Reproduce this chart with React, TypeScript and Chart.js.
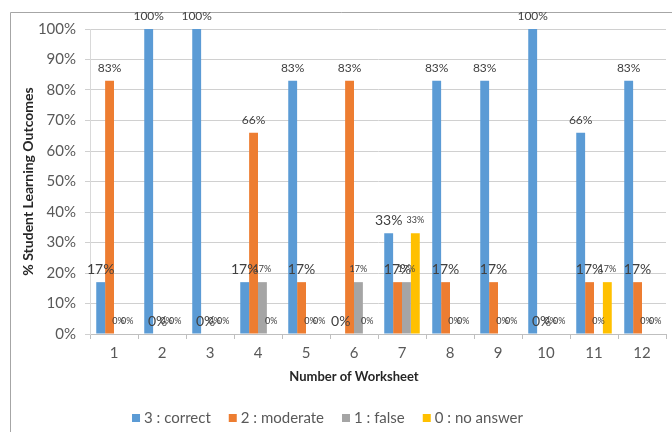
import React, { useEffect, useRef } from "react";
import { Chart, registerables } from "chart.js";

Chart.register(...registerables);

const categories = ["1", "2", "3", "4", "5", "6", "7", "8", "9", "10", "11", "12"];
const correct = [17, 100, 100, 17, 83, 0, 33, 83, 83, 100, 66, 83];
const moderate = [83, 0, 0, 66, 17, 83, 17, 17, 17, 0, 17, 17];
const falseAns = [0, 0, 0, 17, 0, 17, 17, 0, 0, 0, 0, 0];
const noAnswer = [0, 0, 0, 0, 0, 0, 33, 0, 0, 0, 17, 0];
const seriesNames = ["3 : correct", "2 : moderate", "1 : false", "0 : no answer"];
const seriesColors = ["#5b9bd5", "#ed7d31", "#a5a5a5", "#ffc000"];
const xTitle = "Number of Worksheet";
const yTitle = "% Student Learning Outcomes";

const FONT = "Lato, 'Liberation Sans', sans-serif";

const framePlugin = {
  id: "frame",
  beforeDraw(chart: any) {
    const ctx = chart.ctx;
    ctx.save();
    ctx.fillStyle = "#ffffff";
    ctx.fillRect(0, 0, chart.width, chart.height);
    ctx.strokeStyle = "#a6a6a6";
    ctx.lineWidth = 1;
    ctx.beginPath();
    ctx.moveTo(10.5, chart.height);
    ctx.lineTo(10.5, 12.5);
    ctx.lineTo(chart.width, 12.5);
    ctx.stroke();
    ctx.restore();
  },
};

function labelSize(ds: number, v: number) {
  if (ds >= 2) return 9;
  if (v >= 60) return 12;
  return 14;
}

const labelPlugin = {
  id: "valueLabels",
  afterDatasetsDraw(chart: any) {
    const ctx = chart.ctx;
    ctx.save();
    ctx.fillStyle = "#404040";
    ctx.textAlign = "center";
    ctx.textBaseline = "middle";
    chart.data.datasets.forEach((ds: any, di: number) => {
      const meta = chart.getDatasetMeta(di);
      meta.data.forEach((bar: any, i: number) => {
        const v = ds.data[i];
        const size = labelSize(di, v);
        ctx.font = `${size}px ${FONT}`;
        ctx.fillText(`${v}%`, bar.x, bar.y - 13);
      });
    });
    ctx.restore();
  },
};

const legendPlugin = {
  id: "customLegend",
  afterDraw(chart: any) {
    const ctx = chart.ctx;
    ctx.save();
    ctx.font = `15px ${FONT}`;
    ctx.textBaseline = "middle";
    ctx.textAlign = "left";
    const box = 8, gap = 4, between = 18;
    const widths = seriesNames.map((n) => ctx.measureText(n).width);
    const total = widths.reduce((a, w) => a + box + gap + w, 0) + between * (seriesNames.length - 1);
    let x = 327.5 - total / 2;
    const y = 418;
    seriesNames.forEach((n, i) => {
      ctx.fillStyle = seriesColors[i];
      ctx.fillRect(x, y - box / 2, box, box);
      ctx.fillStyle = "#595959";
      ctx.fillText(n, x + box + gap, y);
      x += box + gap + widths[i] + between;
    });
    ctx.font = `bold 13px ${FONT}`;
    ctx.textAlign = "center";
    ctx.fillStyle = "#262626";
    ctx.fillText(xTitle, 354, 377);
    ctx.restore();
  },
};

export default function App() {
  const ref = useRef<HTMLCanvasElement | null>(null);
  useEffect(() => {
    document.body.style.margin = "0";
    if (!ref.current) return;
    const seriesData = [correct, moderate, falseAns, noAnswer];
    const chart = new Chart(ref.current, {
      type: "bar",
      data: {
        labels: categories,
        datasets: seriesNames.map((name, i) => ({
          label: name,
          data: seriesData[i],
          backgroundColor: seriesColors[i],
          borderWidth: 0,
          categoryPercentage: 0.74,
          barPercentage: 1,
        })),
      },
      options: {
        responsive: false,
        animation: false,
        layout: { padding: { left: 10, top: 29, right: 6, bottom: 38 } },
        plugins: {
          legend: { display: false },
          tooltip: { enabled: false },
          title: { display: false },
        },
        scales: {
          x: {
            offset: true,
            grid: {
              offset: true,
              drawOnChartArea: false,
              drawTicks: true,
              tickLength: 5,
              color: "#bfbfbf",
            },
            border: { display: true, color: "#bfbfbf" },
            ticks: {
              color: "#595959",
              padding: 5,
              font: { family: FONT, size: 15 },
            },
            afterFit: (s: any) => {
              s.height = 60;
            },
          },
          y: {
            min: 0,
            max: 100,
            ticks: {
              stepSize: 10,
              color: "#595959",
              padding: 9,
              font: { family: FONT, size: 15 },
              callback: (v: any) => `${v}%`,
            },
            grid: { color: "#d0d0d0", tickLength: 5, drawTicks: true },
            border: { display: true, color: "#d9d9d9" },
            title: {
              display: true,
              text: yTitle,
              color: "#262626",
              font: { family: FONT, size: 14, weight: "bold" },
              padding: { top: 10, bottom: 0 },
            },
            afterFit: (s: any) => {
              s.width = 80;
            },
          },
        },
      },
      plugins: [framePlugin, labelPlugin, legendPlugin],
    });
    return () => chart.destroy();
  }, []);
  return <canvas ref={ref} width={672} height={432} style={{ display: "block" }} />;
}
